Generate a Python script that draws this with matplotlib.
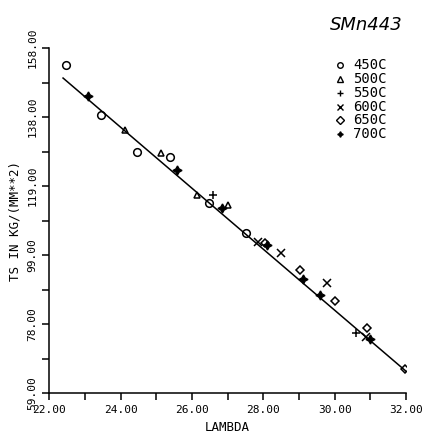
import numpy as np
import matplotlib
matplotlib.use('Agg')
import matplotlib.pyplot as plt

# readings taken off the scanned plot
lam_450 = [22.48, 23.46, 24.47, 25.39, 26.48, 27.52]
ts_450 = [153.1, 138.8, 128.2, 126.7, 113.5, 104.9]

lam_500 = [24.13, 25.14, 26.15, 27.01]
ts_500 = [134.5, 127.9, 115.8, 112.9]

lam_550 = [26.59, 30.60]
ts_550 = [115.8, 76.2]

lam_600 = [27.85, 28.50, 29.79, 30.88]
ts_600 = [102.3, 99.2, 90.6, 75.1]

lam_650 = [28.05, 29.03, 30.01, 30.91, 31.97]
ts_650 = [102.0, 94.3, 85.4, 77.7, 65.9]

lam_700 = [23.09, 25.59, 26.85, 28.11, 29.11, 29.59, 30.99]
ts_700 = [144.2, 122.9, 112.1, 101.5, 91.7, 87.1, 74.5]

fit_lam = [22.39, 32.0]
fit_ts = [149.4, 65.3]

xticks = [22, 24, 26, 28, 30, 32]
xlabels = ['22.00', '24.00', '26.00', '28.00', '30.00', '32.00']
yticks = [59.0, 78.8, 98.6, 118.4, 138.2, 158.0]
ylabels = ['59.00', '78.00', '99.00', '119.00', '138.00', '158.00']

plt.rcParams['font.family'] = 'DejaVu Sans Mono'

fig = plt.figure(figsize=(4.31, 4.33), dpi=100)
ax = fig.add_axes([0.114, 0.092, 0.828, 0.797])

ax.plot(fit_lam, fit_ts, color='black', lw=1.1)

ms = 5.5
ax.plot(lam_450, ts_450, 'o', mfc='none', mec='black', ms=ms, mew=1.1)
ax.plot(lam_500, ts_500, '^', mfc='none', mec='black', ms=ms - 1, mew=1.1)
ax.plot(lam_550, ts_550, '+', color='black', ms=ms + 0.5, mew=1.1)
ax.plot(lam_600, ts_600, 'x', color='black', ms=ms, mew=1.1)
ax.plot(lam_650, ts_650, 'D', mfc='none', mec='black', ms=ms - 1.5, mew=1.1)
ax.plot(lam_700, ts_700, marker=(4, 1, 0), ls='none', color='black', ms=ms + 1)

ax.set_xlim(22, 32)
ax.set_ylim(59, 158)
ax.set_xticks(xticks)
ax.set_xticklabels(xlabels, fontsize=8)
ax.set_xticks(np.arange(23, 32, 2), minor=True)
ax.set_yticks(yticks)
ax.set_yticklabels(ylabels, fontsize=8, rotation=90, va='center')
ax.set_yticks([68.9, 88.7, 108.5, 128.3, 148.1], minor=True)
ax.tick_params(which='both', direction='out', length=5, width=1.1, color='black')
for s in ['top', 'right']:
    ax.spines[s].set_visible(False)
for s in ['left', 'bottom']:
    ax.spines[s].set_linewidth(1.1)

ax.set_xlabel('LAMBDA', fontsize=9)
ax.set_ylabel('TS IN KG/(MM**2)', fontsize=9)

# legend drawn by hand at top right
names = ['450C', '500C', '550C', '600C', '650C', '700C']
marks = [('o', 'none'), ('^', 'none'), ('+', 'black'), ('x', 'black'), ('D', 'none'), ((4, 1, 0), 'black')]
for i, (name, (m, fc)) in enumerate(zip(names, marks)):
    yy = 0.850 - i * 0.032
    fig.lines.append(plt.Line2D([0.789], [yy], marker=m, mfc=fc, mec='black', ms=4, mew=1,
                                transform=fig.transFigure, ls='none'))
    fig.text(0.82, yy, name, fontsize=10, va='center', ha='left')

fig.text(0.765, 0.942, 'SMn443', fontsize=13, style='italic',
         family='DejaVu Sans', fontweight='light', va='center', ha='left')

fig.savefig('out.png', dpi=100)
